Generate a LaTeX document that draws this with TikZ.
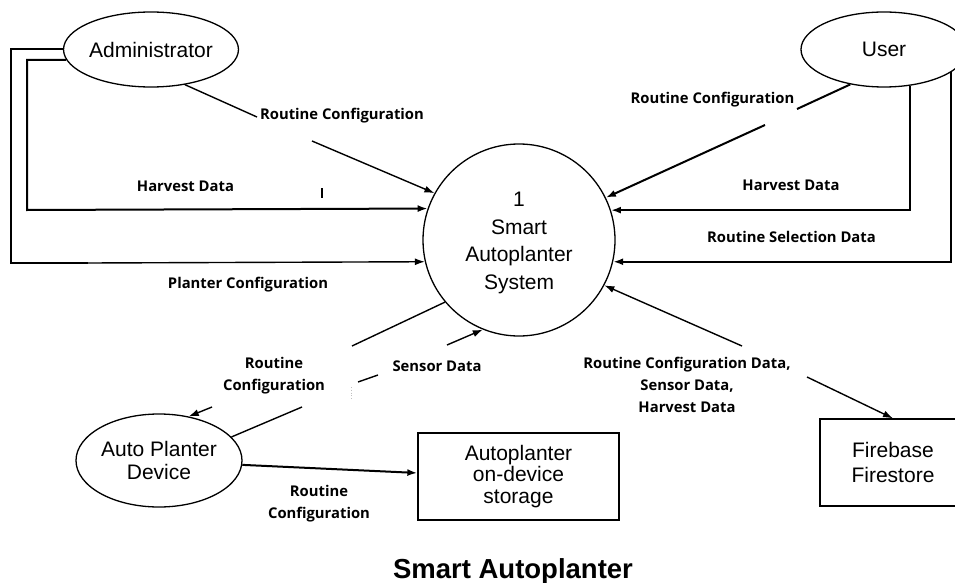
\documentclass[tikz,border=0pt]{standalone}
\usepackage{fontspec}
\setmainfont{Liberation Sans}
\newfontfamily\flowfont{Open Sans}
\usetikzlibrary{arrows.meta,shapes.geometric}
\tikzset{
  entity/.style={ellipse, draw, line width=1.3pt, inner sep=0pt, align=center,
    minimum width=166pt, font=\fontsize{21}{23}\selectfont},
  process/.style={circle, draw, line width=1.3pt, minimum size=192pt, inner sep=0pt},
  datastore/.style={rectangle, draw, line width=1.3pt, inner sep=0pt, align=center,
    minimum height=87pt},
  flowlbl/.style={inner sep=0pt, align=center,
    font=\flowfont\bfseries\fontsize{14.8}{22}\selectfont},
  flow/.style={line width=1.4pt},
  heavy/.style={line width=2pt},
  tip/.style={-{Latex[length=10pt,width=7pt]}},
}
\begin{document}
\begin{tikzpicture}[x=1pt,y=-1pt]
\path[use as bounding box, fill=white] (0,0) rectangle (955,583);

% external entities, process and data stores
\node[entity, minimum height=75pt] (adm) at (151,49.5) {Administrator};
\node[entity, minimum height=75pt] (usr) at (884,49.5) {User};
\node[process] (sys) at (519,240) {};
\node[align=center, inner sep=0pt, font=\fontsize{21}{27.7}\selectfont] (systxt) at (519,243)
  {1\\Smart\\Autoplanter\\System};
\node[entity, minimum height=93pt] (dev) at (159,460.5) {Auto Planter\\Device};
\node[datastore, minimum width=201pt, font=\fontsize{21}{21.5}\selectfont] (odstore) at (518.5,476.5)
  {Autoplanter\\on-device\\storage};
\node[datastore, minimum width=146pt, font=\fontsize{21}{25}\selectfont] (fire) at (893,462.5)
  {Firebase\\Firestore};

% Administrator: routine configuration (interrupted around its label)
\coordinate (a1) at (257,117);
\coordinate (a2) at (312,141);
\draw[flow] (adm.-46) -- (a1);
\draw[flow,tip] (a2) -- (sys.151.3);

% Administrator: harvest data
\coordinate (h1) at (27,210);
\draw[heavy,tip] (adm.187) -| (h1) -- (sys.161.8);

% Administrator: planter configuration
\coordinate (p1) at (11,263);
\coordinate (p2) at (88,263);
\draw[heavy] (adm.180) -| (p1) -- (p2);
\draw[flow,tip] (p2) -- (sys.193.9);

% User: routine configuration
\coordinate (u1) at (797,109);
\coordinate (u2) at (765,125);
\draw[heavy] (usr.226.6) -- (u1);
\draw[heavy,tip] (u2) -- (sys.26.6);

% User: harvest data and routine selection data
\draw[heavy,tip] (usr.-54) |- (sys.18.8);
\draw[heavy,tip] (usr.-19.2) |- (sys.-13.25);

% process <-> Firebase
\coordinate (f1) at (742,346);
\coordinate (f2) at (807,377);
\draw[flow,tip] (f1) -- (sys.-28.7);
\draw[flow,tip] (f2) -- (fire.north);

% process -> device: routine configuration
\coordinate (r1) at (352,346);
\coordinate (r2) at (212,407);
\draw[flow] (sys.220.4) -- (r1);
\draw[flow,tip] (r2) -- (dev.56);

% device -> process: sensor data
\coordinate (s1) at (302,407);
\coordinate (s2) at (358,382);
\coordinate (s3) at (378,375);
\coordinate (s4) at (447,345);
\draw[flow] (dev.18.2) -- (s1);
\draw[flow] (s2) -- (s3);
\draw[flow,tip] (s4) -- (sys.248.2);

% device -> on-device storage
\draw[heavy,tip] (dev.-3) -- (odstore.178);

% flow labels
\node[flowlbl, anchor=base] (l1) at (342,119.3) {Routine Configuration};
\node[flowlbl, anchor=base] (l2) at (185.5,191) {Harvest Data};
\node[flowlbl, anchor=base] (l3) at (248,288) {Planter Configuration};
\node[flowlbl, anchor=base] (l4) at (712.5,103) {Routine Configuration};
\node[flowlbl, anchor=base] (l5) at (791,190) {Harvest Data};
\node[flowlbl, anchor=base] (l6) at (791.5,242) {Routine Selection Data};
\node[flowlbl] (l7) at (274,375.5) {Routine\\Configuration};
\node[flowlbl, anchor=base] (l8) at (437,371) {Sensor Data};
\node[flowlbl] (l9) at (687,385.3) {Routine Configuration Data,\\Sensor Data,\\Harvest Data};
\node[flowlbl] (l10) at (319,504) {Routine\\Configuration};

% stray marks
\draw[line width=1.6pt] (322,188) -- (322,198);
\draw[gray!50, line width=0.8pt, dotted] (351,387) -- (351,400);

% title
\node[anchor=base, inner sep=0pt, font=\bfseries\fontsize{27.5}{30}\selectfont] (title) at (513,578)
  {Smart Autoplanter};
\end{tikzpicture}
\end{document}
